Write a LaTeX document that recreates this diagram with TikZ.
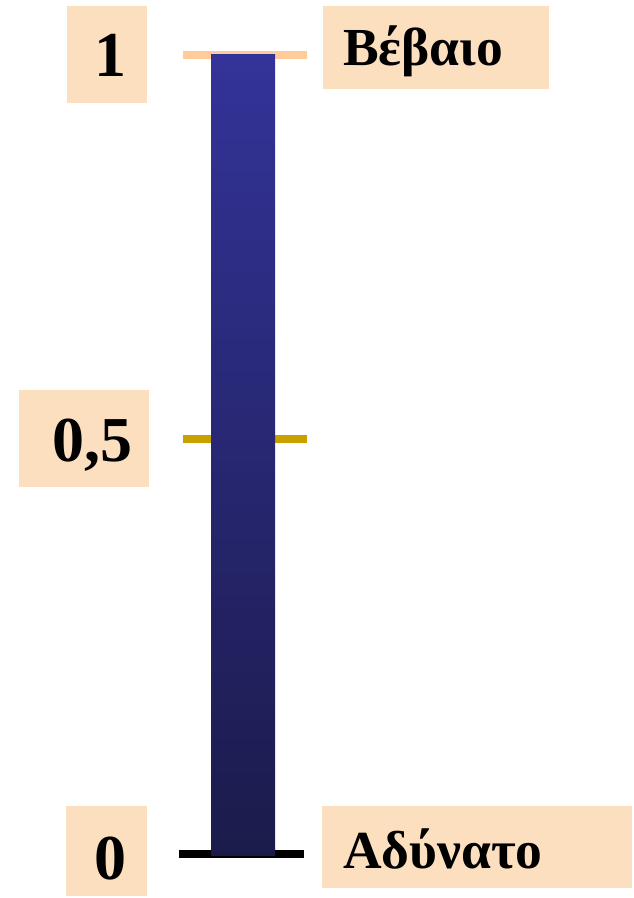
\documentclass[tikz,border=0pt]{standalone}
\usepackage{fontspec}
\setmainfont{Liberation Serif}
\definecolor{peach}{HTML}{FCDFBE}
\definecolor{tickorange}{HTML}{FFCC99}
\definecolor{tickgold}{HTML}{C8A000}
\definecolor{bartop}{HTML}{333399}
\definecolor{barbot}{HTML}{1B1B4B}
\tikzset{
  labelbox/.style={fill=peach, draw=none, inner sep=0pt},
  numtext/.style={font=\fontsize{64}{64}\selectfont\bfseries, inner sep=0pt, anchor=base},
  wordtext/.style={font=\fontsize{53.5}{53.5}\selectfont\bfseries, inner sep=0pt, anchor=base west},
  tickline/.style={line width=8pt}
}
\begin{document}
\begin{tikzpicture}[x=1pt,y=1pt]
\useasboundingbox (0,0) rectangle (634,898);
% boxes
\node[labelbox, minimum width=80pt, minimum height=97pt] (b1) at (107,843.5) {};
\node[labelbox, minimum width=226pt, minimum height=83pt] (bB) at (436,850.5) {};
\node[labelbox, minimum width=130pt, minimum height=97pt] (b05) at (84,459.5) {};
\node[labelbox, minimum width=81pt, minimum height=90pt] (b0) at (106.5,47) {};
\node[labelbox, minimum width=310pt, minimum height=82pt] (bA) at (477,51) {};
% ticks
\coordinate (t1l) at (183,843); \coordinate (t1r) at (307,843);
\coordinate (t5l) at (183,459); \coordinate (t5r) at (307,459);
\coordinate (t0l) at (179,44);  \coordinate (t0r) at (304,44);
\draw[tickline, tickorange] (t1l) -- (t1r);
\draw[tickline, tickgold] (t5l) -- (t5r);
\draw[tickline, black] (t0l) -- (t0r);
% bar
\shade[top color=bartop, bottom color=barbot] (211,42) rectangle (275,843);
% texts
\node[numtext] (n1) at (110,821) {1};
\node[wordtext] (wB) at (343,832) {Βέβαιο};
\node[numtext, anchor=base west] (n05) at (52,436) {0,5};
\node[numtext] (n0) at (110,18) {0};
\node[wordtext] (wA) at (343,30) {Αδύνατο};
\end{tikzpicture}
\end{document}
